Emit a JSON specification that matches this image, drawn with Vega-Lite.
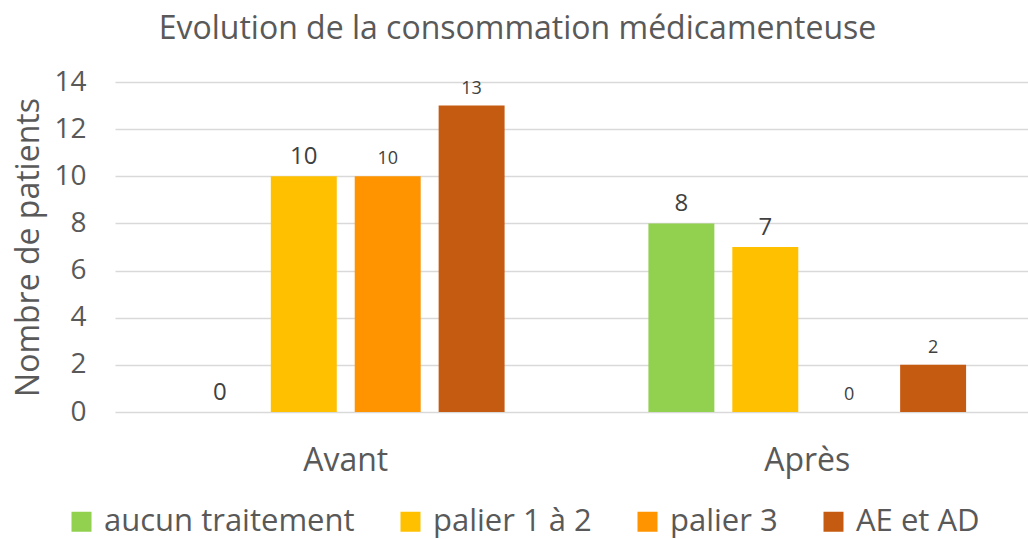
{
  "$schema": "https://vega.github.io/schema/vega-lite/v6.json",
  "width": 913,
  "height": 330,
  "autosize": "none",
  "padding": {"left": 115, "top": 82, "right": 0, "bottom": 127},
  "background": "white",
  "title": {"text": "Evolution de la consommation médicamenteuse", "fontSize": 32, "font": "Open Sans", "fontWeight": "normal", "color": "#595959", "anchor": "middle", "dx": -54, "offset": 22},
  "config": {"view": {"stroke": null}, "font": "Open Sans"},
  "data": {"values": [
    {"periode": "Avant", "serie": "aucun traitement", "valeur": 0},
    {"periode": "Avant", "serie": "palier 1 à 2", "valeur": 10},
    {"periode": "Avant", "serie": "palier 3", "valeur": 10},
    {"periode": "Avant", "serie": "AE et AD", "valeur": 13},
    {"periode": "Après", "serie": "aucun traitement", "valeur": 8},
    {"periode": "Après", "serie": "palier 1 à 2", "valeur": 7},
    {"periode": "Après", "serie": "palier 3", "valeur": 0},
    {"periode": "Après", "serie": "AE et AD", "valeur": 2}
  ]},
  "encoding": {
    "x": {"field": "periode", "type": "nominal", "sort": ["Avant", "Après"],
      "scale": {"range": [0, 923], "paddingInner": 0, "paddingOuter": 0},
      "axis": {"title": null, "labelAngle": 0, "domain": false, "ticks": false, "grid": false, "labelFontSize": 32, "labelColor": "#595959", "labelPadding": 33}},
    "xOffset": {"field": "serie", "type": "nominal", "sort": ["aucun traitement", "palier 1 à 2", "palier 3", "AE et AD"],
      "scale": {"paddingInner": 0.214, "paddingOuter": 0.857}},
    "y": {"field": "valeur", "type": "quantitative", "scale": {"domain": [0, 14]},
      "axis": {"title": "Nombre de patients", "values": [0, 2, 4, 6, 8, 10, 12, 14], "domain": false, "ticks": false, "gridColor": "#D9D9D9", "gridWidth": 1.5, "labelFontSize": 28, "labelColor": "#595959", "labelPadding": 29, "titleFontSize": 32, "titleColor": "#595959", "titleFontWeight": "normal", "titlePadding": 8}}
  },
  "layer": [
    {"mark": {"type": "bar"},
     "encoding": {"color": {"field": "serie", "type": "nominal",
       "scale": {"domain": ["aucun traitement", "palier 1 à 2", "palier 3", "AE et AD"], "range": ["#92D050", "#FFC000", "#FF9300", "#C55A11"]},
       "legend": {"orient": "none", "legendX": -49, "legendY": 424, "direction": "horizontal", "title": null, "symbolType": "square", "symbolSize": 400, "symbolStrokeWidth": 0, "labelFontSize": 31, "labelColor": "#595959", "labelLimit": 0, "columnPadding": 40, "labelOffset": 7}}}},
    {"transform": [{"filter": "datum.serie === 'aucun traitement' || datum.serie === 'palier 1 à 2'"}],
     "mark": {"type": "text", "baseline": "alphabetic", "dy": -12, "color": "#404040", "fontSize": 24},
     "encoding": {"text": {"field": "valeur", "type": "quantitative"}}},
    {"transform": [{"filter": "datum.serie === 'palier 3' || datum.serie === 'AE et AD'"}],
     "mark": {"type": "text", "baseline": "alphabetic", "dy": -12, "color": "#404040", "fontSize": 18},
     "encoding": {"text": {"field": "valeur", "type": "quantitative"}}}
  ]
}
